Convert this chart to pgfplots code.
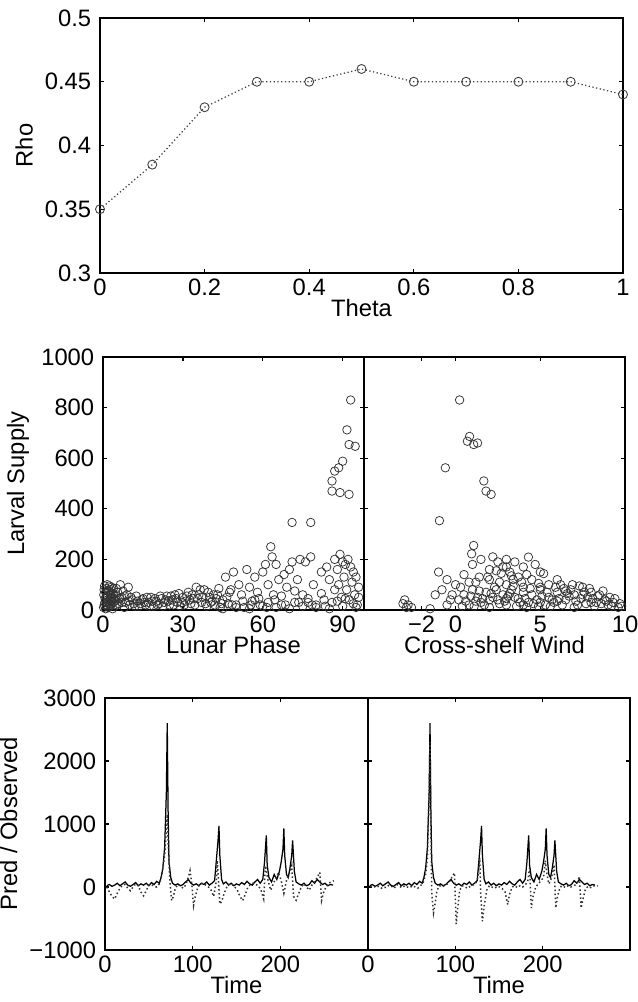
\documentclass[border=0pt]{standalone}
\usepackage{fontspec}
\setmainfont{Liberation Sans}
\usepackage{pgfplots}
\pgfplotsset{compat=1.18}
\begin{document}
\begin{tikzpicture}
\useasboundingbox (0pt,0pt) rectangle (254.8pt,400.8pt);
\pgfplotsset{base/.style={scale only axis, anchor=south west, tick align=inside,
  major tick length=1.6pt, axis line style={line width=0.7pt},
  tick style={line width=0.5pt, black},
  tick label style={font=\fontsize{9.5}{10}\selectfont},
  label style={font=\fontsize{9.5}{10}\selectfont},
  xticklabel style={yshift=1pt},
  /pgf/number format/assume math mode=true,
  scaled ticks=false, /pgf/number format/1000 sep={},
  xlabel style={yshift=5.5pt}, ylabel style={yshift=-2pt}},
  sc/.style={only marks, mark=o, mark size=1.7pt, black!80, mark options={line width=0.3pt}}}

% ---------- Top panel ----------
\begin{axis}[base, at={(40pt,291.6pt)}, width=209.2pt, height=102pt,
  xmin=0, xmax=1, ymin=0.3, ymax=0.5,
  xtick={0,0.2,0.4,0.6,0.8,1}, xticklabels={0,0.2,0.4,0.6,0.8,1},
  ytick={0.3,0.35,0.4,0.45,0.5}, yticklabels={0.3,0.35,0.4,0.45,0.5},
  xlabel={Theta}, ylabel={Rho}]
\addplot[black!75, densely dotted, line width=0.5pt, mark=o, mark size=1.8pt,
  mark options={solid, line width=0.35pt}] coordinates {
(0,0.35)(0.1,0.385)(0.2,0.43)(0.3,0.45)(0.4,0.45)(0.5,0.46)(0.6,0.45)(0.7,0.45)(0.8,0.45)(0.9,0.45)(1,0.44)};
\end{axis}

% ---------- Middle left ----------
\begin{axis}[base, at={(41.2pt,156.8pt)}, width=104.4pt, height=101.2pt,
  xmin=0, xmax=98, ymin=0, ymax=1000,
  xtick={0,30,60,90}, ytick={0,200,400,600,800,1000},
  xlabel={Lunar Phase}, ylabel={Larval Supply}]
\addplot[sc] coordinates {
(0.5,20)(0.8,45)(1,70)(1.2,85)(1.5,30)(1.8,55)(2,10)(2.2,75)(2.5,40)(2.8,60)(3,20)(3.2,90)(3.5,50)(3.8,30)(4,65)
(0.3,60)(1,5)(2,35)(3,80)(0.6,95)(1.6,100)(2.6,15)(3.6,5)(4.5,15)(5,40)(5.5,70)(6,25)(6.5,100)(7,50)(8,10)(8.5,30)(9,60)
(10,20)(11,40)(12,15)(13,35)(14,25)(15,45)(16,20)(17,30)(18,50)(19,15)(20,35)(21,25)(22,45)(23,30)(24,55)(25,20)
(26,40)(27,60)(28,30)(29,15)(30,50)(31,35)(32,70)(33,25)(34,45)(35,90)(36,60)(37,30)(38,80)(39,15)(40,50)(41,35)
(42,20)(43,60)(44,10)(45,40)(46,130)(47,25)(48,80)(49,150)(50,20)(51,100)(52,60)(53,10)(54,160)(55,90)(56,35)
(57,130)(58,70)(59,20)(60,150)(61,180)(62,100)(63,250)(63.5,210)(64,60)(65,180)(66,120)(67,20)(68,140)(69,90)
(70,160)(71,190)(72,30)(73,120)(74,200)(75,60)(76,190)(77,30)(78,210)(79,100)(80,20)(82,150)(83,40)(84,170)
(85,120)(86,30)(87,200)(88,160)(88.5,100)(89,220)(89.5,50)(90,190)(90.5,130)(91,180)(91.5,80)(92,200)(92.5,40)
(93,170)(93.5,110)(94,150)(94.5,60)(95,130)(95.5,20)(96,90)
(45,5)(50,10)(55,5)(60,15)(65,10)(70,5)(75,15)(80,10)(85,5)(90,15)(95,10)(57,40)(62,30)(67,55)(72,75)(77,45)(82,65)(87,80)
(0.2,10)(0.7,30)(1.3,50)(1.9,75)(2.4,95)(2.9,45)(3.4,65)(3.9,85)(4.4,35)(4.9,55)(0.4,80)(1.4,15)(2.3,25)(3.3,35)
(4.2,45)(5.2,20)(6.2,45)(7.2,30)(8.2,55)(9.5,35)(10.5,50)(11.5,25)(12.5,55)(13.5,15)(14.5,40)(15.5,30)(16.5,50)
(17.5,15)(18.5,35)(19.5,45)(20.5,20)(21.5,55)(22.5,15)(23.5,40)(24.5,35)(25.5,55)(26.5,20)(27.5,45)(28.5,65)
(29.5,30)(30.5,20)(31.5,55)(32.5,40)(33.5,60)(34.5,20)(35.5,45)(36.5,80)(37.5,50)(38.5,25)(39.5,70)(40.5,30)
(41.5,60)(42.5,45)(43.5,85)(44.5,25)(46.5,50)(47.5,70)(48.5,20)(52.5,35)(55.5,20)(58.5,45)(61.5,10)(64.5,40)
(68.5,20)(73.5,30)(78.5,20)(83.5,15)(88,35)(91,45)(94,25)(96,50)(5,85)(7.5,75)(9.5,90)
(93,830)(91.6,712)(92.4,654)(94.7,647)(90,588)(88.5,562)(87,549)(86,510)(86,470)(89,464)(92.4,457)(71,346)(78,346)};
\end{axis}

% ---------- Middle right ----------
\begin{axis}[base, at={(145.6pt,156.8pt)}, width=104.4pt, height=101.2pt,
  xmin=-5.4, xmax=10, ymin=0, ymax=1000,
  xtick={-2,0,5,10}, xticklabels={−2,0,5,10}, ytick={0,200,400,600,800,1000}, yticklabels={},
  xlabel={Cross-shelf Wind}]
\addplot[sc] coordinates {
(0.24,830)(0.83,686)(1.07,654)(0.7,667)(1.3,660)(-0.6,562)(1.67,510)(1.8,470)(2.1,457)(-0.95,353)(1.07,255)(0.95,222)
(-1,150)(-0.5,120)(-0.8,80)(0,100)(0.5,140)(1,180)(1.5,200)(2,160)(2.2,210)(2.5,190)(2.8,170)(3,200)(3.2,150)
(3.5,190)(3.7,130)(4,170)(4.3,209)(4.5,120)(5,150)(5.2,144)(5.5,100)(6,120)(2,120)(1.2,110)(3,100)(4,90)(5,80)
(0.2,40)(0.5,60)(0.8,20)(1,80)(1.3,50)(1.5,30)(1.8,70)(2,10)(2.3,90)(2.5,40)(2.8,60)(3,20)(3.3,80)(3.5,50)(3.8,30)
(4,70)(4.2,10)(4.5,60)(4.8,40)(5,90)(5.3,20)(5.5,50)(5.8,30)(6,70)(6.2,100)(6.5,40)(6.8,80)(7,60)(7.2,20)(7.5,90)
(7.8,50)(8,70)(8.3,30)(8.5,60)(8.8,40)(9,20)(9.3,30)(9.6,10)(9.8,15)(-3,40)(-2.8,20)(-2.6,10)(-1.5,5)(-0.5,20)
(0.6,35)(1.1,15)(1.6,45)(2.1,65)(2.6,25)(3.1,55)(3.6,15)(4.1,45)(4.6,25)(5.1,55)(5.6,15)(6.1,45)(6.6,65)(7.1,35)
(7.6,70)(8.1,45)(8.6,25)(9.1,50)(6.4,85)(7.3,95)(6.9,100)(1.9,130)(2.7,145)(3.4,120)(4.7,180)(3.9,110)(-0.2,60)(0.3,90)
(0.4,15)(0.9,55)(1.4,75)(1.7,20)(2.2,50)(2.4,80)(2.9,35)(3.2,65)(3.4,95)(3.7,45)(4.3,30)(4.4,85)(4.9,15)(5.4,70)
(5.7,40)(5.9,90)(6.3,20)(6.7,55)(7.4,45)(7.7,25)(7.9,85)(8.2,15)(8.4,55)(8.7,75)(8.9,35)(9.2,15)(9.4,45)(9.7,25)
(6.0,35)(6.5,75)(7.0,10)(7.5,60)(8.0,30)(3.0,45)(2.0,40)(1.2,35)(4.0,20)(5.0,30)(2.6,110)(3.3,135)(4.2,140)(3.0,170)
(2.4,155)(4.9,105)(1.4,130)(0.8,110)(-0.3,40)(-1.2,60)(-2.9,10)(-3.1,25)};
\end{axis}

% ---------- Bottom left ----------
\begin{axis}[base, at={(42pt,20.8pt)}, width=105.2pt, height=100.8pt,
  xmin=0, xmax=300, ymin=-1000, ymax=3000,
  xtick={0,100,200}, ytick={-1000,0,1000,2000,3000},
  yticklabels={−1000,0,1000,2000,3000},
  xlabel={Time}, ylabel={Pred / Observed}]
\addplot[black, line width=0.5pt] coordinates {
(2,20)(5,40)(8,10)(11,30)(14,60)(17,20)(20,50)(23,80)(26,30)(29,10)(32,40)(35,70)(38,20)(41,50)(44,30)(47,60)(50,20)
(53,70)(56,40)(59,90)(62,60)(64,150)(66,300)(68,620)(70,1500)(71,2600)(72,1200)(73,400)(75,150)(77,60)(80,30)(83,50)
(86,20)(89,40)(92,80)(95,120)(98,60)(101,30)(104,50)(107,20)(110,60)(113,40)(116,80)(119,30)(122,60)(125,100)(127,420)
(129,750)(130,970)(131,500)(133,120)(135,50)(138,80)(141,30)(144,60)(147,20)(150,50)(153,30)(156,70)(159,40)(162,90)
(165,50)(168,30)(171,80)(174,120)(177,60)(180,120)(182,400)(184,820)(185,350)(187,150)(190,80)(193,200)(196,120)
(199,250)(201,400)(203,600)(204,930)(205,500)(207,200)(209,150)(211,300)(213,500)(214,740)(216,250)(218,80)(221,50)
(224,30)(227,60)(230,20)(233,40)(236,100)(239,60)(242,120)(245,80)(248,40)(251,60)(254,20)(257,40)(260,30)};
\addplot[black!80, densely dotted, line width=0.6pt] coordinates {
(2,0)(5,-80)(8,-150)(11,-190)(14,-100)(17,-20)(20,30)(23,40)(26,-20)(29,-60)(32,0)(35,50)(38,20)(41,-80)(44,-140)
(47,-60)(50,30)(53,40)(56,10)(59,0)(62,50)(65,200)(68,500)(70,900)(71,1150)(72,700)(74,100)(76,-216)(78,-150)(80,-30)
(83,40)(86,20)(89,-20)(92,30)(95,150)(97,260)(99,50)(101,-296)(103,-150)(106,0)(109,50)(112,60)(115,30)(118,0)
(121,-50)(124,-150)(127,100)(128,418)(129,200)(131,-270)(133,-230)(136,-100)(139,0)(142,50)(145,40)(148,0)(151,-50)
(154,-150)(157,-216)(160,-120)(163,0)(166,40)(169,60)(172,40)(175,20)(178,-50)(181,-190)(183,338)(186,100)(189,-50)
(192,50)(195,150)(198,230)(201,100)(204,-100)(207,100)(210,200)(213,340)(215,-150)(218,-210)(221,-100)(224,0)(227,50)
(230,0)(233,-50)(236,30)(239,80)(242,150)(245,233)(247,-216)(249,-100)(252,0)(255,60)(258,80)(261,100)};
\end{axis}

% ---------- Bottom right ----------
\begin{axis}[base, at={(147.2pt,20.8pt)}, width=104.8pt, height=100.8pt,
  xmin=0, xmax=300, ymin=-1000, ymax=3000,
  xtick={0,100,200}, ytick={-1000,0,1000,2000,3000}, yticklabels={},
  xlabel={Time}]
\addplot[black, line width=0.5pt] coordinates {
(2,20)(5,40)(8,10)(11,30)(14,60)(17,20)(20,50)(23,80)(26,30)(29,10)(32,40)(35,70)(38,20)(41,50)(44,30)(47,60)(50,20)
(53,70)(56,40)(59,90)(62,60)(64,150)(66,300)(68,620)(70,1500)(71,2600)(72,1200)(73,400)(75,150)(77,60)(80,30)(83,50)
(86,20)(89,40)(92,80)(95,120)(98,60)(101,30)(104,50)(107,20)(110,60)(113,40)(116,80)(119,30)(122,60)(125,100)(127,420)
(129,750)(130,970)(131,500)(133,120)(135,50)(138,80)(141,30)(144,60)(147,20)(150,50)(153,30)(156,70)(159,40)(162,90)
(165,50)(168,30)(171,80)(174,120)(177,60)(180,120)(182,400)(184,820)(185,350)(187,150)(190,80)(193,200)(196,120)
(199,250)(201,400)(203,600)(204,930)(205,500)(207,200)(209,150)(211,300)(213,500)(214,740)(216,250)(218,80)(221,50)
(224,30)(227,60)(230,20)(233,40)(236,100)(239,60)(242,120)(245,80)(248,40)(251,60)(254,20)(257,40)(260,30)};
\addplot[black!80, densely dotted, line width=0.6pt] coordinates {
(3,0)(6,20)(9,-10)(12,10)(15,-20)(18,0)(21,-10)(24,30)(27,10)(30,-20)(33,40)(36,10)(39,-10)(42,20)(45,0)(48,-10)
(51,20)(54,0)(57,-20)(60,20)(63,60)(66,200)(68,450)(70,1500)(71,2300)(72,900)(73,-100)(75,-412)(77,-250)(79,-50)
(82,20)(85,0)(88,30)(91,50)(94,100)(97,180)(99,222)(101,-587)(103,-300)(105,-50)(108,20)(111,0)(114,-20)(117,10)
(120,30)(123,50)(126,150)(128,460)(129,-100)(131,-544)(133,-300)(136,-50)(139,20)(142,0)(145,-20)(148,10)(151,0)
(154,-30)(157,-80)(160,-280)(162,-120)(165,0)(168,20)(171,-10)(174,20)(177,0)(180,30)(183,100)(185,300)(187,-333)
(189,-150)(192,0)(195,50)(198,100)(201,150)(203,420)(205,200)(207,50)(209,100)(211,200)(213,350)(215,-333)(217,-150)
(220,0)(223,20)(226,-10)(229,20)(232,0)(235,10)(238,40)(240,80)(242,170)(244,-333)(246,-200)(249,-30)(252,10)
(255,-10)(258,20)(261,10)(263,20)};
\end{axis}
\end{tikzpicture}
\end{document}
